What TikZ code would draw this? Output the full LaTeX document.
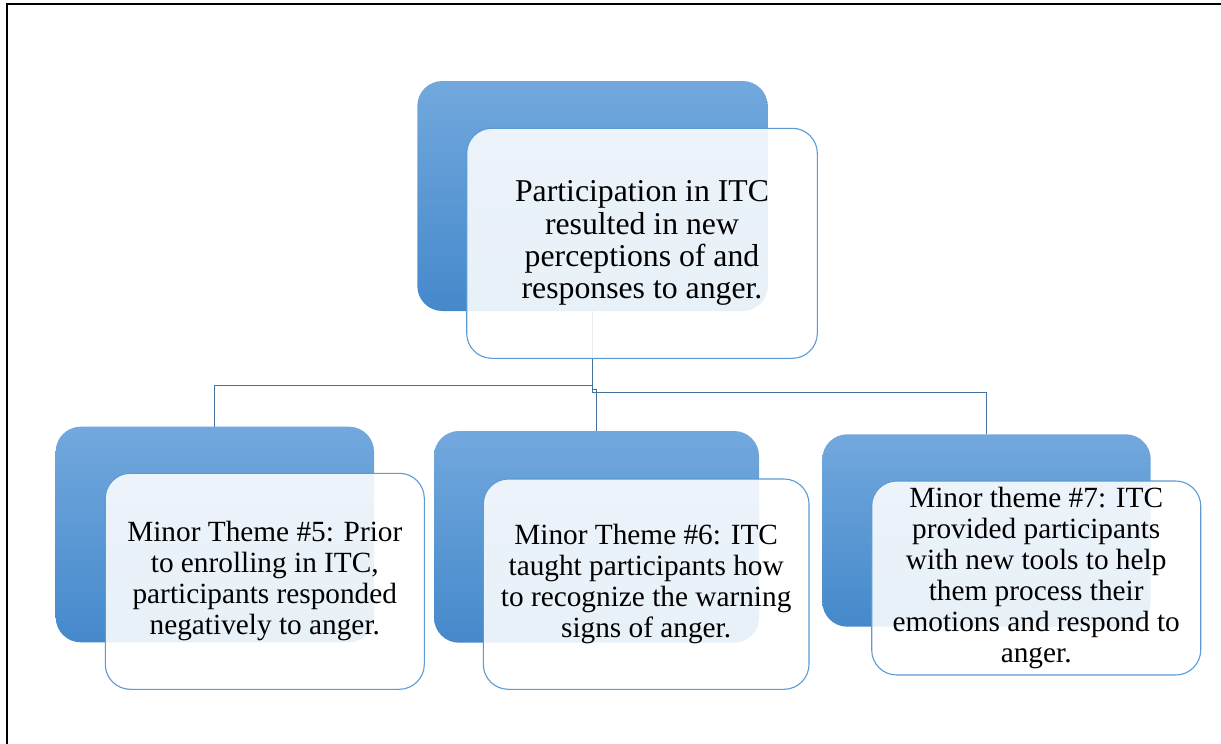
\documentclass[tikz,border=0pt]{standalone}
\usepackage{fontspec}
\setmainfont{Liberation Serif}
\usetikzlibrary{backgrounds}
\definecolor{backtop}{RGB}{114,168,221}
\definecolor{backbot}{RGB}{69,137,203}
\definecolor{frontedge}{RGB}{91,155,213}
\definecolor{connclr}{RGB}{65,113,156}
\tikzset{
  backbox/.style={rectangle, rounded corners=25pt, draw=none, top color=backtop, bottom color=backbot, inner sep=0pt, outer sep=0pt},
  frontbox/.style={rectangle, rounded corners=25pt, draw=frontedge, line width=1.1pt, fill=white, fill opacity=0.88, text opacity=1, inner sep=0pt, outer sep=0pt, align=center, text=black},
  bigtext/.style={font=\fontsize{31.75pt}{32.3pt}\selectfont},
  smalltext/.style={font=\fontsize{29.3pt}{31pt}\selectfont},
  conn/.style={draw=connclr, line width=1.1pt},
  frameline/.style={draw=black, line width=2pt}
}
\begin{document}
\begin{tikzpicture}[x=1pt, y=-1pt]
\useasboundingbox (0,0) rectangle (1221,744);
% back boxes
\node[backbox, minimum width=350.4pt, minimum height=230pt] (topback) at (592.5,196) {};
\node[backbox, minimum width=318.3pt, minimum height=215.6pt] (leftback) at (214.85,534.5) {};
\node[backbox, minimum width=325pt, minimum height=211.7pt] (midback) at (596.5,536.85) {};
\node[backbox, minimum width=328.4pt, minimum height=192.4pt] (rightback) at (986.5,530.5) {};
% front boxes
\node[frontbox, bigtext, minimum width=350.6pt, minimum height=230pt] (topfront) at (642,243.3)
  {Participation in ITC\\resulted in new\\perceptions of and\\responses to anger.};
\node[frontbox, smalltext, minimum width=319pt, minimum height=216pt] (leftfront) at (264.8,581.3)
  {Minor Theme \#5: Prior\\to enrolling in ITC,\\participants responded\\negatively to anger.};
\node[frontbox, smalltext, minimum width=325.7pt, minimum height=210.3pt] (midfront) at (646.15,584.15)
  {Minor Theme \#6: ITC\\taught participants how\\to recognize the warning\\signs of anger.};
\node[frontbox, smalltext, minimum width=329pt, minimum height=194pt] (rightfront) at (1036.2,578)
  {Minor theme \#7: ITC\\provided participants\\with new tools to help\\them process their\\emotions and respond to\\anger.};
\coordinate (jl) at (0,385.3);
\coordinate (jm) at (0,389.5);
\coordinate (jr) at (0,392.7);
\begin{scope}[on background layer]
  \fill[white] (0,0) rectangle (1221,744);
  \draw[conn] (topback.south) -- (topback.south |- jl) -| (leftback.north);
  \draw[conn] (topback.south) -- (topback.south |- jm) -| (midback.north);
  \draw[conn] (topback.south) -- (topback.south |- jr) -| (rightback.north);
\end{scope}
% frame
\draw[frameline] (6.5,744) -- (6.5,3.5) -- (1221,3.5);
\end{tikzpicture}
\end{document}
